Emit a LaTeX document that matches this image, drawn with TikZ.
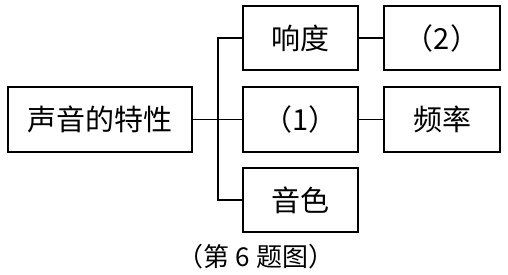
\documentclass[tikz,border=0pt]{standalone}
\usepackage{fontspec}
\newfontfamily\cjk{Noto Sans CJK SC}
\begin{document}
\begin{tikzpicture}[x=1pt,y=-1pt,
  box/.style={draw, line width=1.3pt, inner sep=0pt, font=\cjk\fontsize{29}{29}\selectfont},
  link/.style={line width=1.3pt}]
\useasboundingbox (0,0) rectangle (508,275);
\node[box, minimum width=184pt, minimum height=65pt] (root) at (100,119.5) {声音的特性};
\node[box, minimum width=115pt, minimum height=64pt] (a) at (300.5,38) {响度};
\node[box, minimum width=115pt, minimum height=65pt] (b) at (300.5,119.5) {（1）};
\node[box, minimum width=115pt, minimum height=64pt] (c) at (300.5,200) {音色};
\node[box, minimum width=116pt, minimum height=64pt] (d) at (442,38) {（2）};
\node[box, minimum width=116pt, minimum height=65pt] (e) at (442,119.5) {频率};
\coordinate (j) at (218,119.5);
\node[font=\cjk\fontsize{26}{26}\selectfont, inner sep=0pt] (cap) at (256,257) {（第\hspace{6pt}6\hspace{6pt}题图）};
\draw[link] (root.east) -- (b.west);
\draw[link] (a.west) -- (a.west -| j) -- (c.west -| j) -- (c.west);
\draw[link] (a.east) -- (d.west);
\draw[link] (b.east) -- (e.west);
\end{tikzpicture}
\end{document}
